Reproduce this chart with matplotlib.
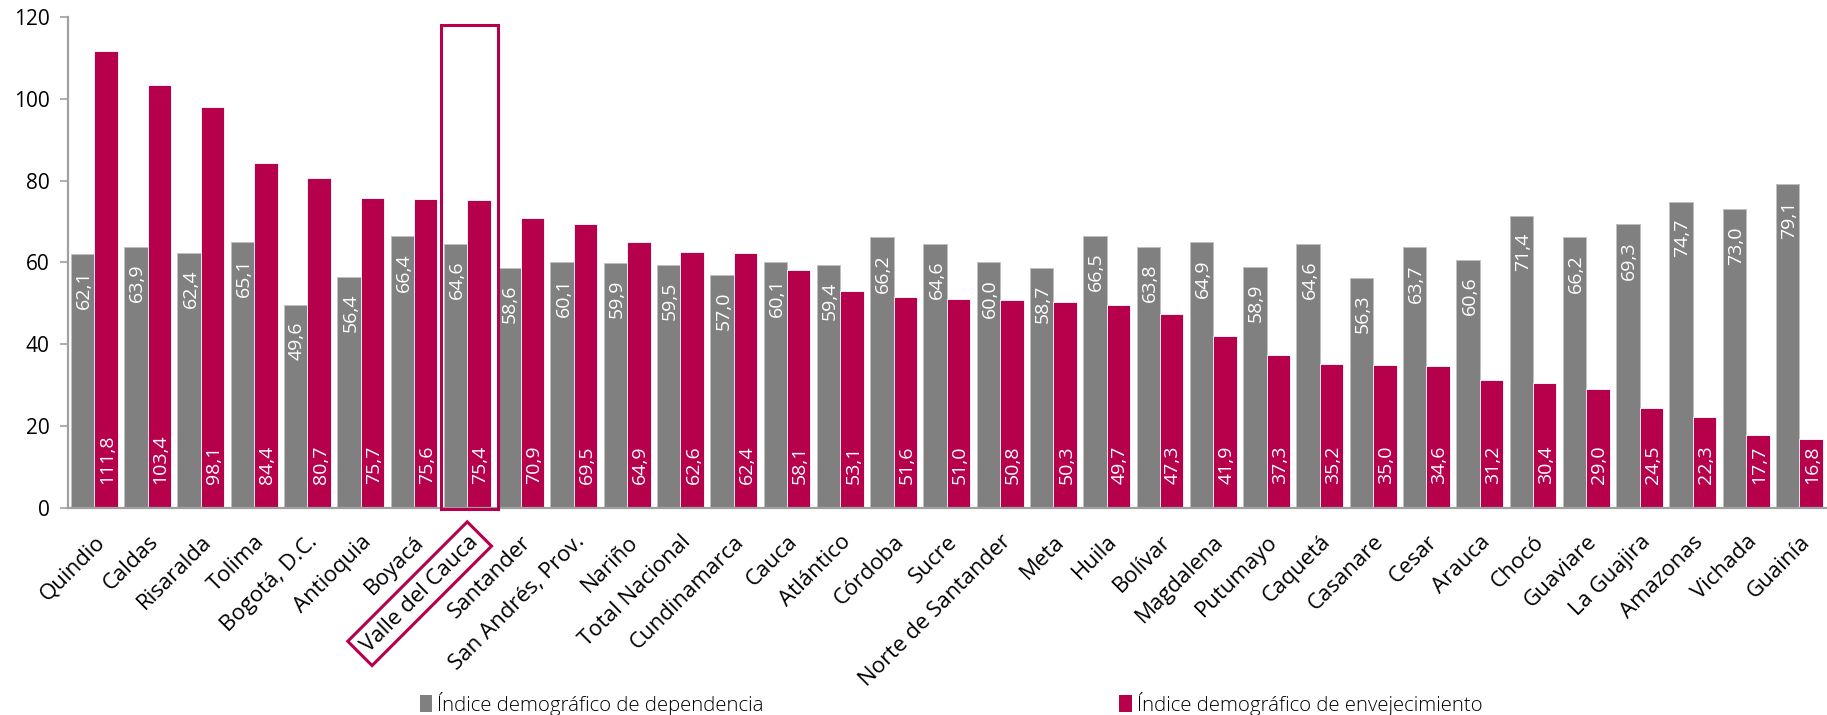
import matplotlib
matplotlib.use("Agg")
import matplotlib.pyplot as plt
from matplotlib.patches import Rectangle, Patch
import numpy as np

categories = ["Quindio", "Caldas", "Risaralda", "Tolima", "Bogotá, D.C.", "Antioquia",
              "Boyacá", "Valle del Cauca", "Santander", "San Andrés, Prov.", "Nariño",
              "Total Nacional", "Cundinamarca", "Cauca", "Atlántico", "Córdoba", "Sucre",
              "Norte de Santander", "Meta", "Huila", "Bolívar", "Magdalena", "Putumayo",
              "Caquetá", "Casanare", "Cesar", "Arauca", "Chocó", "Guaviare", "La Guajira",
              "Amazonas", "Vichada", "Guainía"]
dependencia = [62.1, 63.9, 62.4, 65.1, 49.6, 56.4, 66.4, 64.6, 58.6, 60.1, 59.9,
               59.5, 57.0, 60.1, 59.4, 66.2, 64.6, 60.0, 58.7, 66.5, 63.8, 64.9,
               58.9, 64.6, 56.3, 63.7, 60.6, 71.4, 66.2, 69.3, 74.7, 73.0, 79.1]
envejecimiento = [111.8, 103.4, 98.1, 84.4, 80.7, 75.7, 75.6, 75.4, 70.9, 69.5, 64.9,
                  62.6, 62.4, 58.1, 53.1, 51.6, 51.0, 50.8, 50.3, 49.7, 47.3, 41.9,
                  37.3, 35.2, 35.0, 34.6, 31.2, 30.4, 29.0, 24.5, 22.3, 17.7, 16.8]
yticks = [0, 20, 40, 60, 80, 100, 120]
legend_labels = ["Índice demográfico de dependencia", "Índice demográfico de envejecimiento"]
highlight = "Valle del Cauca"

GRAY = "#808080"
RED = "#B7004B"
FONT = ["Open Sans", "DejaVu Sans"]
plt.rcParams["font.family"] = FONT

fig = plt.figure(figsize=(18.27, 7.15), dpi=100)
ax = fig.add_axes([0.037, 0.29, 0.9625, 0.6858])

x = np.arange(len(categories))
w = 0.44
ax.bar(x - w / 2, dependencia, width=w, color=GRAY, edgecolor="#BFBFBF", linewidth=0.6)
ax.bar(x + w / 2, envejecimiento, width=w, color=RED, edgecolor="white", linewidth=0.6)

def fmt(v):
    return f"{v:.1f}".replace(".", ",")

for xi, v in zip(x, dependencia):
    ax.annotate(fmt(v), (xi - w / 2, v), xytext=(1, -12), textcoords="offset points",
                rotation=90, ha="center", va="top", color="white", fontsize=14)
for xi, v in zip(x, envejecimiento):
    ax.annotate(fmt(v), (xi + w / 2, 0), xytext=(1, 17), textcoords="offset points",
                rotation=90, ha="center", va="bottom", color="white", fontsize=14)

ax.set_xlim(-0.5, len(categories) - 0.5)
ax.set_ylim(0, 120)
ax.set_yticks(yticks)
ax.set_yticklabels([str(t) for t in yticks], fontsize=15)
ax.set_xticks(x)
ax.set_xticklabels(categories, rotation=45, ha="right", rotation_mode="anchor", fontsize=16)
ax.tick_params(axis="x", length=0, pad=17)
ax.tick_params(axis="y", length=6, width=1.2, color="#A0A0A0", pad=7, direction="out")

for s in ["top", "right"]:
    ax.spines[s].set_visible(False)
for s in ["left", "bottom"]:
    ax.spines[s].set_color("#A0A0A0")
    ax.spines[s].set_linewidth(1.6)

# highlight box around Valle del Cauca
hi = categories.index(highlight)
ax.add_patch(Rectangle((hi - 0.5, -0.3), 1.085, 118.3, fill=False, edgecolor=RED,
                       linewidth=2.2, clip_on=False, zorder=5))
lbl = ax.get_xticklabels()[hi]
lbl.set_bbox(dict(boxstyle="square,pad=0.3", facecolor="none", edgecolor=RED, linewidth=2.2))

# legend
h1 = Patch(facecolor=GRAY, edgecolor="none")
h2 = Patch(facecolor=RED, edgecolor="none")
common = dict(loc="center left", frameon=False, handlelength=0.6, handleheight=0.85,
              handletextpad=0.25, borderpad=0, borderaxespad=0,
              prop={"size": 14.7, "weight": "light", "family": FONT})
fig.legend([h1], [legend_labels[0]], bbox_to_anchor=(0.2297, 0.016), **common)
fig.legend([h2], [legend_labels[1]], bbox_to_anchor=(0.6127, 0.016), **common)

fig.savefig("out.png", dpi=100)
